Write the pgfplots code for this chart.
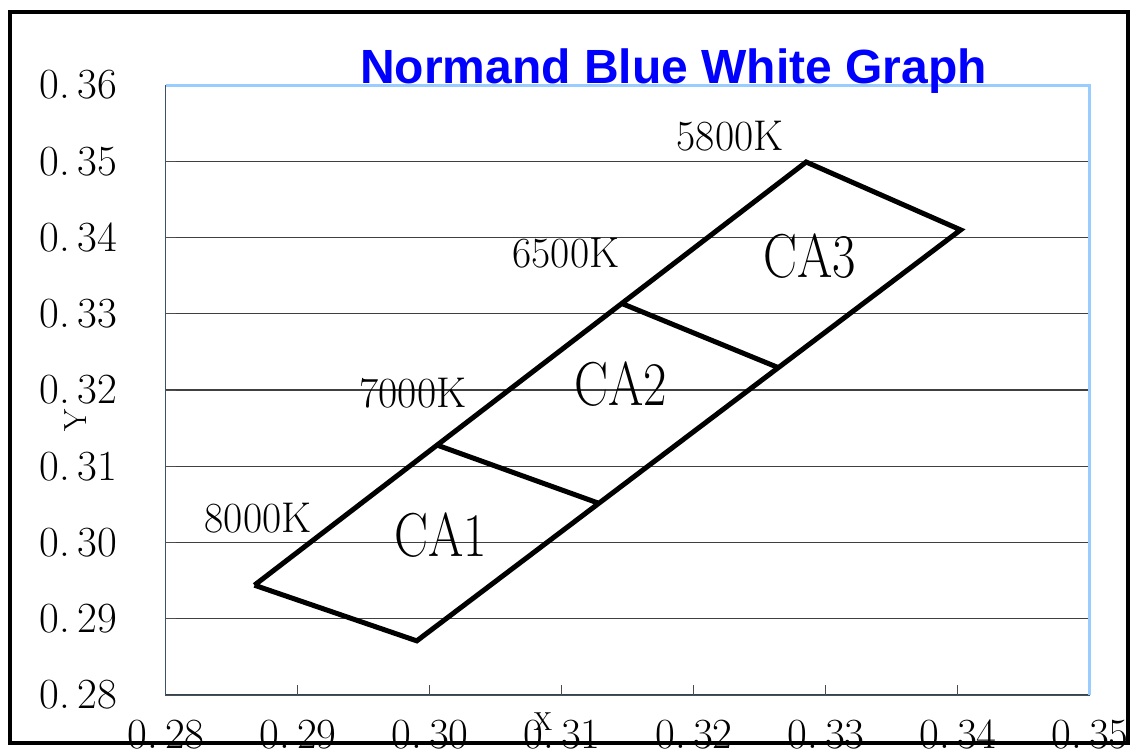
\documentclass[border=0pt]{standalone}
\usepackage{fontspec}
\usepackage{graphicx}
\usepackage{pgfplots}
\pgfplotsset{compat=1.18}
\newfontfamily\titlefont{Liberation Sans}
\definecolor{frameblue}{HTML}{99CCFF}
\definecolor{titleblue}{RGB}{0,0,255}
\newcommand\tl[1]{\scalebox{1.0}[1]{#1}}
\begin{document}
\begin{tikzpicture}
\useasboundingbox (0,0) rectangle (565.5pt,-377pt);
\fill[white] (0,0) rectangle (565.5pt,-377pt);
\begin{axis}[
  at={(83pt,-347.5pt)}, anchor=south west,
  scale only axis, width=462pt, height=305pt,
  xmin=0.28, xmax=0.35, ymin=0.28, ymax=0.36,
  xtick={0.28,0.29,0.30,0.31,0.32,0.33,0.34,0.35},
  xticklabels={\tl{0.\,28},\tl{0.\,29},\tl{0.\,30},\tl{0.\,31},\tl{0.\,32},\tl{0.\,33},\tl{0.\,34},\tl{0.\,35}},
  ytick={0.28,0.29,0.30,0.31,0.32,0.33,0.34,0.35,0.36},
  yticklabels={\tl{0.\,28},\tl{0.\,29},\tl{0.\,30},\tl{0.\,31},\tl{0.\,32},\tl{0.\,33},\tl{0.\,34},\tl{0.\,35},\tl{0.\,36}},
  tick align=inside, xtick pos=lower, ytick pos=left,
  major tick length=5pt,
  tick style={black!70, line width=0.5pt},
  ymajorgrids, major grid style={black!75, line width=0.55pt},
  axis line style={draw=none},
  ticklabel style={font=\fontsize{21.5}{21.5}\selectfont},
  xticklabel style={yshift=-9pt},
  yticklabel style={xshift=-21pt},
  clip=false,
]
\draw[line width=0.5pt, black!60!frameblue] (rel axis cs:0,1) -- (rel axis cs:0,0) -- (rel axis cs:1,0);
\draw[line width=1.5pt, frameblue] (rel axis cs:0,1) -- (rel axis cs:1,1) -- (rel axis cs:1,0);
\addplot[black, line width=2.5pt, line join=miter] coordinates {
  (0.2867,0.2944) (0.3285,0.3499) (0.3402,0.3410) (0.2990,0.2871) (0.2867,0.2944)
};
\addplot[black, line width=2.5pt] coordinates {(0.3005,0.3128) (0.3127,0.3052)};
\addplot[black, line width=2.5pt] coordinates {(0.3146,0.3313) (0.3263,0.3230)};
\node[font=\fontsize{21.5}{21.5}\selectfont] at (axis cs:0.32273,0.35333) {\scalebox{0.97}[1]{5800K}};
\node[font=\fontsize{21.5}{21.5}\selectfont] at (axis cs:0.31030,0.33797) {\scalebox{0.97}[1]{6500K}};
\node[font=\fontsize{21.5}{21.5}\selectfont] at (axis cs:0.29871,0.31961) {\scalebox{0.97}[1]{7000K}};
\node[font=\fontsize{21.5}{21.5}\selectfont] at (axis cs:0.28697,0.30321) {\scalebox{0.97}[1]{8000K}};
\node[font=\fontsize{31}{31}\selectfont] at (axis cs:0.30083,0.30098) {\scalebox{0.82}[1]{CA1}};
\node[font=\fontsize{31}{31}\selectfont] at (axis cs:0.31447,0.32079) {\scalebox{0.82}[1]{CA2}};
\node[font=\fontsize{31}{31}\selectfont] at (axis cs:0.32879,0.33757) {\scalebox{0.82}[1]{CA3}};
\end{axis}
\draw[line width=1.8pt, black] (5pt,-6pt) rectangle (564pt,-371.5pt);
\node[anchor=base, font=\titlefont\bfseries\fontsize{24}{24}\selectfont, text=titleblue] at (336.75pt,-42pt) {Normand Blue White Graph};
\node[rotate=90, font=\fontsize{16}{16}\selectfont] at (38pt,-210pt) {Y};
\node[font=\fontsize{13}{13}\selectfont] at (271.5pt,-361pt) {X};
\end{tikzpicture}
\end{document}
